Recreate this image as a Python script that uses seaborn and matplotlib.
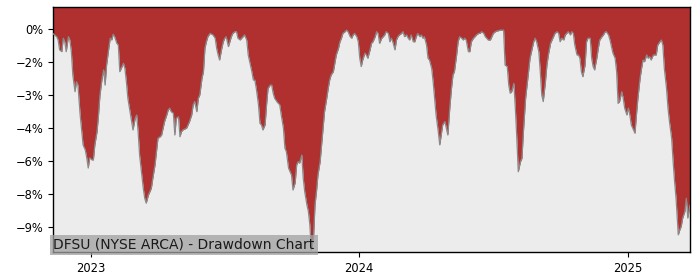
import pandas as pd
import numpy as np
import matplotlib
matplotlib.use("Agg")
import matplotlib.pyplot as plt
import matplotlib.dates as mdates
import seaborn as sns

# ---- data (drawdown in %) ----
dates = [
"2022-11-10","2022-11-11","2022-11-15","2022-11-17","2022-11-19","2022-11-22","2022-11-24","2022-11-26","2022-11-28",
"2022-12-01","2022-12-03","2022-12-05","2022-12-07","2022-12-10","2022-12-12","2022-12-14","2022-12-17","2022-12-19",
"2022-12-21","2022-12-24","2022-12-26","2022-12-28","2022-12-30","2023-01-02","2023-01-04","2023-01-06","2023-01-09",
"2023-01-11","2023-01-13","2023-01-16","2023-01-18","2023-01-20","2023-01-22","2023-01-25","2023-01-27","2023-01-29",
"2023-01-31","2023-02-02","2023-02-05","2023-02-07","2023-02-09","2023-02-11","2023-02-14","2023-02-16","2023-02-18",
"2023-02-20","2023-02-23","2023-02-25","2023-02-27","2023-03-02","2023-03-04","2023-03-06","2023-03-08","2023-03-11",
"2023-03-13","2023-03-15","2023-03-17","2023-03-20","2023-03-22","2023-03-24","2023-03-26","2023-03-29","2023-03-31",
"2023-04-02","2023-04-05","2023-04-07","2023-04-09","2023-04-11","2023-04-14","2023-04-16","2023-04-18","2023-04-20",
"2023-04-23","2023-04-25","2023-04-27","2023-04-30","2023-05-02","2023-05-04","2023-05-06","2023-05-11","2023-05-15",
"2023-05-18","2023-05-20","2023-05-22","2023-05-25","2023-05-27","2023-05-29","2023-06-01","2023-06-03","2023-06-05",
"2023-06-07","2023-06-09","2023-06-12","2023-06-16","2023-06-19","2023-06-21","2023-06-23","2023-06-25","2023-06-28",
"2023-06-30","2023-07-02","2023-07-04","2023-07-07","2023-07-09","2023-07-11","2023-07-13","2023-07-16","2023-07-18",
"2023-07-20","2023-07-23","2023-07-25","2023-07-27","2023-07-29","2023-08-01","2023-08-03","2023-08-05","2023-08-08",
"2023-08-10","2023-08-12","2023-08-14","2023-08-17","2023-08-19","2023-08-21","2023-08-23","2023-08-26","2023-08-28",
"2023-08-30","2023-09-02","2023-09-04","2023-09-06","2023-09-08","2023-09-11","2023-09-13","2023-09-15","2023-09-17",
"2023-09-20","2023-09-22","2023-09-24","2023-09-27","2023-09-29","2023-10-01","2023-10-03","2023-10-06","2023-10-08",
"2023-10-10","2023-10-12","2023-10-15","2023-10-17","2023-10-19","2023-10-22","2023-10-24","2023-10-26","2023-10-28",
"2023-10-31","2023-11-02","2023-11-04","2023-11-06","2023-11-09","2023-11-11","2023-11-13","2023-11-15","2023-11-18",
"2023-11-20","2023-11-22","2023-11-24","2023-11-27","2023-11-29","2023-12-01","2023-12-04","2023-12-06","2023-12-08",
"2023-12-10","2023-12-13","2023-12-15","2023-12-17","2023-12-20","2023-12-22","2023-12-24","2023-12-26","2023-12-29",
"2023-12-31","2024-01-02","2024-01-04","2024-01-06","2024-01-09","2024-01-11","2024-01-13","2024-01-16","2024-01-18",
"2024-01-20","2024-01-23","2024-01-25","2024-01-27","2024-01-29","2024-02-01","2024-02-03","2024-02-05","2024-02-07",
"2024-02-10","2024-02-12","2024-02-14","2024-02-16","2024-02-19","2024-02-21","2024-02-23","2024-02-25","2024-02-28",
"2024-03-01","2024-03-03","2024-03-06","2024-03-08","2024-03-10","2024-03-12","2024-03-15","2024-03-17","2024-03-19",
"2024-03-21","2024-03-24","2024-03-26","2024-03-28","2024-03-30","2024-04-02","2024-04-04","2024-04-06","2024-04-09",
"2024-04-11","2024-04-13","2024-04-15","2024-04-18","2024-04-20","2024-04-22","2024-04-24","2024-04-27","2024-04-29",
"2024-05-01","2024-05-04","2024-05-06","2024-05-08","2024-05-10","2024-05-13","2024-05-15","2024-05-17","2024-05-20",
"2024-05-22","2024-05-24","2024-05-26","2024-05-29","2024-05-31","2024-06-02","2024-06-05","2024-06-07","2024-06-09",
"2024-06-12","2024-06-14","2024-06-16","2024-06-19","2024-06-21","2024-06-23","2024-06-25","2024-06-28","2024-06-30",
"2024-07-02","2024-07-05","2024-07-07","2024-07-09","2024-07-11","2024-07-14","2024-07-16","2024-07-18","2024-07-21",
"2024-07-23","2024-07-25","2024-07-27","2024-07-30","2024-08-01","2024-08-03","2024-08-05","2024-08-08","2024-08-10",
"2024-08-12","2024-08-15","2024-08-17","2024-08-19","2024-08-21","2024-08-24","2024-08-26","2024-08-28","2024-08-30",
"2024-09-02","2024-09-04","2024-09-06","2024-09-08","2024-09-11","2024-09-13","2024-09-15","2024-09-18","2024-09-20",
"2024-09-22","2024-09-24","2024-09-27","2024-09-29","2024-10-01","2024-10-03","2024-10-06","2024-10-08","2024-10-10",
"2024-10-12","2024-10-15","2024-10-17","2024-10-19","2024-10-21","2024-10-24","2024-10-26","2024-10-28","2024-10-30",
"2024-11-01","2024-11-04","2024-11-06","2024-11-08","2024-11-11","2024-11-13","2024-11-15","2024-11-17","2024-11-20",
"2024-11-22","2024-11-24","2024-11-27","2024-11-29","2024-12-01","2024-12-03","2024-12-06","2024-12-08","2024-12-10",
"2024-12-12","2024-12-15","2024-12-17","2024-12-19","2024-12-21","2024-12-24","2024-12-26","2024-12-28","2024-12-31",
"2025-01-02","2025-01-04","2025-01-06","2025-01-08","2025-01-11","2025-01-13","2025-01-15","2025-01-18","2025-01-20",
"2025-01-22","2025-01-24","2025-01-27","2025-01-29","2025-01-31","2025-02-02","2025-02-05","2025-02-07","2025-02-09",
"2025-02-11","2025-02-14","2025-02-16","2025-02-18","2025-02-20","2025-02-23","2025-02-25","2025-02-27","2025-03-02",
"2025-03-04","2025-03-06","2025-03-08","2025-03-11","2025-03-13","2025-03-15","2025-03-17","2025-03-20","2025-03-22",
"2025-03-24","2025-03-27",
]
drawdown = [
-0.20,-0.24,-0.35,-0.50,-0.95,-1.03,-0.42,-0.58,-1.03,
-0.35,-0.50,-1.03,-2.09,-2.85,-2.40,-2.55,-3.91,-4.59,
-5.27,-5.50,-5.86,-6.32,-5.86,-5.95,-5.95,-5.27,-4.67,
-3.91,-3.00,-2.23,-1.86,-2.55,-1.64,-0.88,-0.42,-0.50,
-0.24,-0.35,-0.65,-0.73,-1.94,-1.79,-1.56,-1.79,-2.40,
-3.15,-3.76,-4.14,-4.59,-4.06,-3.91,-4.67,-5.73,-6.64,
-7.24,-7.70,-7.92,-7.55,-7.40,-7.24,-6.79,-6.18,-5.58,
-4.97,-4.90,-4.82,-4.51,-4.21,-3.91,-3.68,-3.60,-3.76,
-3.83,-4.82,-4.06,-3.99,-4.90,-4.67,-4.59,-4.51,-4.21,
-3.91,-3.45,-3.30,-3.76,-3.15,-3.00,-2.24,-1.94,-0.88,
-0.58,-0.35,-0.20,-0.27,-0.42,-0.88,-1.18,-1.41,-0.88,
-0.58,-0.42,-0.35,-0.80,-0.58,-0.35,-0.20,-0.12,-0.12,
-0.42,-0.50,-0.42,-0.35,-0.27,-0.50,-1.18,-1.49,-1.94,
-2.32,-2.32,-2.70,-3.45,-4.29,-4.36,-4.59,-4.36,-3.45,
-2.70,-2.55,-2.55,-2.92,-3.15,-3.30,-3.38,-3.45,-3.91,
-4.51,-5.42,-5.58,-6.33,-6.49,-6.64,-7.32,-6.99,-6.18,
-6.03,-6.10,-5.73,-6.79,-7.40,-8.00,-8.30,-8.91,-10.05,
-9.50,-8.00,-7.40,-6.64,-6.03,-5.27,-4.51,-3.76,-3.15,
-2.70,-2.32,-2.09,-1.94,-1.56,-1.18,-0.88,-0.58,-0.42,
-0.20,-0.12,-0.05,-0.12,-0.35,-0.42,-0.27,-0.20,-0.35,
-0.58,-1.33,-1.71,-1.41,-1.10,-1.18,-1.33,-0.95,-0.65,
-0.58,-0.35,-0.12,-0.20,-0.65,-0.42,-0.35,-0.27,-0.12,
-0.20,-0.58,-0.42,-0.58,-0.95,-0.50,-0.35,-0.27,-0.20,
-0.12,-0.35,-0.27,-0.42,-0.50,-0.27,-0.58,-0.58,-0.35,
-0.20,-0.35,-0.27,-0.42,-0.35,-0.73,-1.33,-1.41,-1.79,
-2.40,-3.15,-3.91,-4.67,-5.27,-4.82,-4.36,-4.21,-4.51,
-4.82,-3.45,-2.70,-2.09,-1.94,-1.18,-0.58,-0.35,-0.42,
-0.50,-0.42,-0.50,-1.03,-1.03,-0.58,-0.42,-0.35,-0.27,
-0.20,-0.20,-0.12,-0.20,-0.35,-0.42,-0.50,-0.50,-0.35,
-0.20,-0.12,-0.09,-0.08,-0.05,-0.05,-0.05,-1.64,-1.71,
-2.55,-2.92,-2.85,-2.47,-3.60,-4.97,-6.49,-6.03,-5.88,
-4.67,-3.15,-2.55,-1.94,-1.33,-0.88,-0.58,-0.42,-0.58,
-1.03,-1.94,-3.00,-3.30,-2.40,-1.64,-1.18,-0.65,-0.50,
-0.35,-0.20,-0.12,-0.20,-0.58,-0.42,-0.50,-0.27,-0.20,
-0.12,-0.27,-0.12,-0.20,-0.73,-1.18,-1.18,-1.33,-1.94,
-2.17,-1.64,-0.58,-0.42,-0.42,-1.33,-1.71,-1.86,-1.33,
-0.88,-0.50,-0.35,-0.27,-0.15,-0.12,-0.27,-0.50,-0.80,
-1.10,-1.33,-1.94,-3.38,-3.30,-2.85,-3.15,-3.60,-3.91,
-3.60,-3.91,-4.36,-4.51,-4.74,-3.91,-3.15,-2.24,-1.79,
-1.41,-1.49,-1.18,-1.33,-1.26,-1.41,-1.18,-1.18,-1.18,
-0.73,-0.58,-0.50,-0.73,-1.79,-2.70,-3.60,-4.21,-4.97,
-6.03,-6.94,-7.70,-9.36,-9.14,-8.98,-8.60,-8.30,-7.70,
-8.60,-8.00,
]
ytick_values = [0, -1.5, -3, -4.5, -6, -7.5, -9]
ytick_labels = ["0%", "\u22122%", "\u22123%", "\u22124%", "\u22126%", "\u22128%", "\u22129%"]
title_text = "DFSU (NYSE ARCA) - Drawdown Chart"

df = pd.DataFrame({"date": pd.to_datetime(dates), "dd": drawdown})

sns.set_style("ticks", {"axes.facecolor": "#ececec", "axes.edgecolor": "black"})
plt.rcParams["font.family"] = ["DejaVu Sans"]

fig = plt.figure(figsize=(7, 2.8), dpi=100)
ax = fig.add_axes([53/700, 1 - 252/280, (690 - 53)/700, (252 - 7)/280])

ytop = 1.0
ybot = -10.14
ax.fill_between(df["date"], df["dd"], ytop, color="#b03030", linewidth=0, zorder=2)
sns.lineplot(data=df, x="date", y="dd", ax=ax, color="#8a8a8a", linewidth=0.9, zorder=3)

ax.set_ylim(ybot, ytop)
ax.set_xlim(df["date"].iloc[0], df["date"].iloc[-1])
ax.set_yticks(ytick_values)
ax.set_yticklabels(ytick_labels)
ax.xaxis.set_major_locator(mdates.YearLocator())
ax.xaxis.set_major_formatter(mdates.DateFormatter("%Y"))
ax.tick_params(axis="both", labelsize=8.3, colors="black", length=3.5, width=0.8)
ax.set_xlabel("")
ax.set_ylabel("")
for s in ax.spines.values():
    s.set_visible(True)
    s.set_color("black")
    s.set_linewidth(1.0)

ax.text(0.0, 0.0, title_text, transform=ax.transAxes, fontsize=10, color="#1a1a1a",
        ha="left", va="bottom", zorder=5,
        bbox=dict(boxstyle="square,pad=0.25", facecolor="#a0a0a0", alpha=0.75, edgecolor="none"))

fig.savefig("out.png", dpi=100)
